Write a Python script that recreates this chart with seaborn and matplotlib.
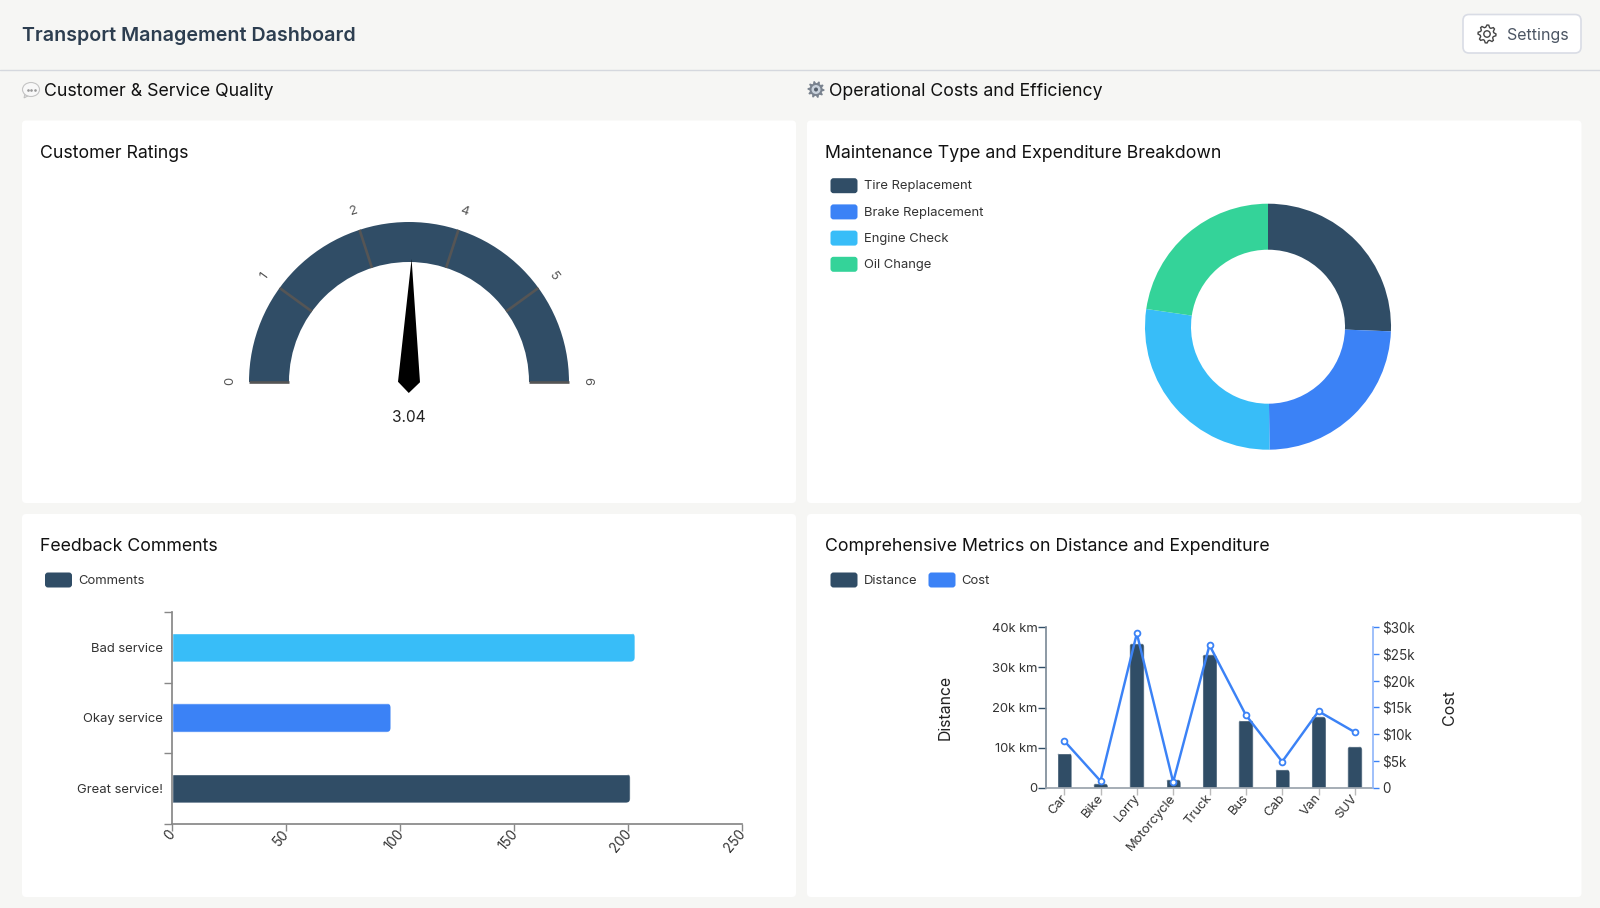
import numpy as np
import matplotlib
matplotlib.use("Agg")
import matplotlib.pyplot as plt
import seaborn as sns
from matplotlib.patches import FancyBboxPatch, Wedge, Polygon, Ellipse, Circle
from matplotlib.transforms import IdentityTransform, ScaledTranslation

W, H = 1600, 908

NAVY = "#304D66"
BLUE = "#3B82F6"
SKY = "#38BDF8"
GREEN = "#34D399"
BG = "#F6F6F4"

GAUGE_TICKS = [0, 1.2, 2.4, 3.6, 4.8, 6]
GAUGE_LABELS = ["0", "1", "2", "4", "5", "6"]
GAUGE_VALUE = 3.04

MAINT_TYPES = ["Tire Replacement", "Brake Replacement", "Engine Check", "Oil Change"]
MAINT_SHARE = [25.6, 24.2, 27.5, 22.7]
MAINT_COLORS = [NAVY, BLUE, SKY, GREEN]

COMMENTS = ["Bad service", "Okay service", "Great service!"]
COMMENT_COUNTS = [203, 96, 201]
COMMENT_COLORS = [SKY, BLUE, NAVY]

VEHICLES = ["Car", "Bike", "Lorry", "Motorcycle", "Truck", "Bus", "Cab", "Van", "SUV"]
DISTANCE = [8800, 1200, 36000, 2200, 33200, 17000, 4700, 17800, 10400]
COST = [8800, 1300, 28800, 1100, 26600, 13600, 4900, 14300, 10400]

DIST_TICKS = [0, 10000, 20000, 30000, 40000]
DIST_LABELS = ["0", "10k km", "20k km", "30k km", "40k km"]
COST_TICKS = [0, 5000, 10000, 15000, 20000, 25000, 30000]
COST_LABELS = ["0", "$5k", "$10k", "$15k", "$20k", "$25k", "$30k"]

sns.set_theme(style="white")
plt.rcParams["font.family"] = ["Inter", "DejaVu Sans"]
plt.rcParams["axes.facecolor"] = "none"

fig = plt.figure(figsize=(W / 100, H / 100), dpi=100, facecolor=BG)


def px_axes(x0, y0, x1, y1):
    # pixel box, y from the top of the picture
    return fig.add_axes([x0 / W, 1 - y1 / H, (x1 - x0) / W, (y1 - y0) / H])


def px(size):
    return size * 0.72


def round_box(ax, x0, y0, x1, y1, r, **kw):
    box = FancyBboxPatch((x0, y0), x1 - x0, y1 - y0,
                         boxstyle=f"round,pad=0,rounding_size={r}", **kw)
    ax.add_patch(box)
    return box


def gear(ax, x, y, r, teeth=8, **kw):
    ang = np.linspace(0, 2 * np.pi, teeth * 4, endpoint=False)
    rad = np.tile([r, r, r * 0.76, r * 0.76], teeth)
    pts = np.c_[x + rad * np.cos(ang), y + rad * np.sin(ang)]
    ax.add_patch(Polygon(pts, closed=True, **kw))


def legend_row(ax, x, y, color, label):
    round_box(ax, x, y - 7.5, x + 27, y + 7.5, 3, fc=color, ec="none")
    ax.text(x + 33, y + 0.7, label, fontsize=px(13), color="#333333", va="center")


def round_bars(bars, side):
    # rounded far end of a bar, near end stays square
    for bar in bars:
        e = bar.get_window_extent()
        if side == "right":
            x0, y0, w, h = e.x0 - 10, e.y0, e.width + 10, e.height
        else:
            x0, y0, w, h = e.x0, e.y0 - 10, e.width, e.height + 10
        clip = FancyBboxPatch((x0, y0), w, h, boxstyle="round,pad=0,rounding_size=4.5",
                              transform=IdentityTransform())
        bar.set_clip_path(clip)


def slanted_labels(ax, dx, dy):
    # slanted x labels, nudged by dx, dy pixels
    shift = ScaledTranslation(dx / 100, dy / 100, fig.dpi_scale_trans)
    for lab in ax.get_xticklabels():
        lab.set(rotation=50, ha="right", va="top", rotation_mode="anchor")
        lab.set_transform(lab.get_transform() + shift)


# page chrome
bg = px_axes(0, 0, W, H)
bg.set_xlim(0, W)
bg.set_ylim(H, 0)
bg.axis("off")

bg.plot([0, W], [69.5, 69.5], color="#D5D8DE", lw=1)
bg.text(22.5, 36, "Transport Management Dashboard", fontsize=px(19.6), fontweight=600,
        color="#2D3E50", va="center")

round_box(bg, 1463, 14.5, 1581, 53, 6, fc="white", ec="#D9DCE5", lw=1.2)
gear(bg, 1487, 34, 9, fc="none", ec="#444444", lw=1)
bg.add_patch(Circle((1487, 34), 3.2, fc="none", ec="#444444", lw=1))
bg.text(1507, 35.5, "Settings", fontsize=px(16), color="#4B5563", va="center")

# section headings with their small icons
bg.add_patch(Polygon([[25, 92], [24, 98], [32, 94]], fc="#DDDDDD", ec="#BDBDBD", lw=0.6))
bg.add_patch(Ellipse((31, 89.5), 17, 14, fc="#F8F8F8", ec="#C4C4C4", lw=0.8))
bg.scatter([27.5, 31, 34.5], [89.5, 89.5, 89.5], s=0.8, color="#999999")
bg.text(44.5, 91, "Customer & Service Quality", fontsize=px(17.75), color="#111111", va="center")

gear(bg, 816, 89.5, 8.5, teeth=10, fc="#7A838F", ec="none")
bg.add_patch(Circle((816, 89.5), 4.5, fc="#C9D2DC", ec="none"))
bg.add_patch(Circle((816, 89.5), 2, fc="#56606C", ec="none"))
bg.text(829, 91, "Operational Costs and Efficiency", fontsize=px(17.7), color="#111111", va="center")

CARDS = [
    (22, 120.5, 796, 503, "Customer Ratings"),
    (807, 120.5, 1581.5, 503, "Maintenance Type and Expenditure Breakdown"),
    (22, 514, 796, 897, "Feedback Comments"),
    (807, 514, 1581.5, 897, "Comprehensive Metrics on Distance and Expenditure"),
]
for x0, y0, x1, y1, title in CARDS:
    round_box(bg, x0, y0, x1, y1, 4, fc="white", ec="none")
    bg.text(x0 + 17.8, y0 + 32.5, title, fontsize=px(17.7), color="#111111", va="center")

for i, (name, color) in enumerate(zip(MAINT_TYPES, MAINT_COLORS)):
    legend_row(bg, 830.5, 185.7 + i * 26.2, color, name)
legend_row(bg, 45, 580, NAVY, "Comments")
legend_row(bg, 830.5, 580, NAVY, "Distance")
legend_row(bg, 928.5, 580, BLUE, "Cost")

# gauge, drawn in pixels around its centre
CX, CY = 409, 382
ax_g = px_axes(CX - 200, CY - 200, CX + 200, CY + 40)
ax_g.set_xlim(-200, 200)
ax_g.set_ylim(-40, 200)
ax_g.axis("off")
ax_g.add_patch(Wedge((0, 0), 160, 0, 180, width=40, fc=NAVY, ec="none"))
for val, lab in zip(GAUGE_TICKS, GAUGE_LABELS):
    a = np.pi * (1 - val / GAUGE_TICKS[-1])
    ax_g.plot([120 * np.cos(a), 160 * np.cos(a)], [120 * np.sin(a), 160 * np.sin(a)],
              color="#555555", lw=1.9, solid_capstyle="butt")
    ax_g.text(178.5 * np.cos(a), 178.5 * np.sin(a) + 1, lab, fontsize=px(13), color="#555555",
              ha="center", va="center", rotation=np.degrees(a) - 90 if a > 0 else -90)

a = np.pi * (1 - GAUGE_VALUE / GAUGE_TICKS[-1])
tip = np.array([np.cos(a), np.sin(a)])
nrm = np.array([-np.sin(a), np.cos(a)])
ax_g.add_patch(Polygon([tip * 123, nrm * -11, tip * -11, nrm * 11], closed=True, fc="black", ec="none"))
ax_g.text(0, -36, f"{GAUGE_VALUE:.2f}", fontsize=px(15.5), color="#222222", ha="center", va="center")

# donut
DX, DY, DR = 1268, 326.7, 123
ax_d = px_axes(DX - DR, DY - DR, DX + DR, DY + DR)
ax_d.pie(MAINT_SHARE, colors=MAINT_COLORS, startangle=90, counterclock=False,
         radius=1, wedgeprops={"width": 46 / DR, "linewidth": 0})
ax_d.set_xlim(-1, 1)
ax_d.set_ylim(-1, 1)

# comments bars
ax_b = px_axes(171.5, 612, 742, 823.5)
sns.barplot(x=COMMENT_COUNTS, y=COMMENTS, hue=COMMENTS, palette=COMMENT_COLORS, orient="h",
            width=0.41, saturation=1, legend=False, ax=ax_b)
ax_b.set_xlim(0, 250)
ax_b.set_ylim(2.5, -0.5)
ax_b.set_yticks([-0.5, 0.5, 1.5, 2.5], labels=[])
ax_b.set_yticks([0, 1, 2], labels=COMMENTS, minor=True)
ax_b.set_xticks([0, 50, 100, 150, 200, 250])
ax_b.tick_params(axis="y", which="major", left=True, length=6, width=1, color="#888888")
ax_b.tick_params(axis="y", which="minor", left=False, length=0, pad=6, labelsize=px(13), labelcolor="#333333")
ax_b.tick_params(axis="x", bottom=True, length=5, width=1, color="#888888", pad=2,
                 labelsize=px(13.5), labelcolor="#333333")
sns.despine(ax=ax_b)
for s in ["left", "bottom"]:
    ax_b.spines[s].set_color("#888888")
slanted_labels(ax_b, -4, 6)
round_bars(ax_b.patches, "right")

# distance bars and cost line
ax_m = px_axes(1046, 627, 1373, 788)
sns.barplot(x=VEHICLES, y=DISTANCE, color=NAVY, width=0.41, saturation=1, ax=ax_m)
ax_m.set_xlim(-0.5, 8.5)
ax_m.set_ylim(0, 40000)
ax_m.set_yticks(DIST_TICKS, labels=DIST_LABELS)
ax_m.set_xticks(range(len(VEHICLES)), labels=VEHICLES)
ax_m.set_ylabel("Distance", fontsize=px(15.8), color="#222222")
ax_m.yaxis.set_label_coords((952.5 - 1046) / 327, 0.5)
ax_m.tick_params(axis="y", left=True, length=6, width=1, color=NAVY, pad=0,
                 labelsize=px(13), labelcolor="#333333")
ax_m.tick_params(axis="x", bottom=True, length=5, width=1, color="#BBBBBB", pad=3,
                 labelsize=px(13), labelcolor="#333333")
slanted_labels(ax_m, -4, 7)
round_bars(ax_m.patches, "up")

ax_c = ax_m.twinx()
sns.lineplot(x=np.arange(len(VEHICLES)), y=COST, color=BLUE, lw=1.75, marker="o", markersize=4.2,
             markerfacecolor="white", markeredgecolor=BLUE, markeredgewidth=1.3, ax=ax_c)
ax_c.set_ylim(0, 30000)
ax_c.set_xlim(-0.5, 8.5)
ax_c.set_yticks(COST_TICKS, labels=COST_LABELS)
ax_c.set_ylabel("Cost", fontsize=px(16), color="#222222")
ax_c.yaxis.set_label_coords((1442 - 1046) / 327, 0.5)
ax_c.tick_params(axis="y", right=True, length=4, width=1, color=BLUE, pad=2.5,
                 labelsize=px(13.5), labelcolor="#333333")
ax_m.spines["top"].set_visible(False)
ax_c.spines["top"].set_visible(False)
ax_m.spines["right"].set_visible(False)
ax_c.spines["left"].set_visible(False)
ax_c.spines["bottom"].set_visible(False)
ax_c.spines["right"].set_color("#93B8FA")
ax_m.spines["left"].set_color("#7F8C99")
ax_m.spines["bottom"].set_color("#9AA3AD")

fig.savefig("out.png", dpi=100, facecolor=BG)
